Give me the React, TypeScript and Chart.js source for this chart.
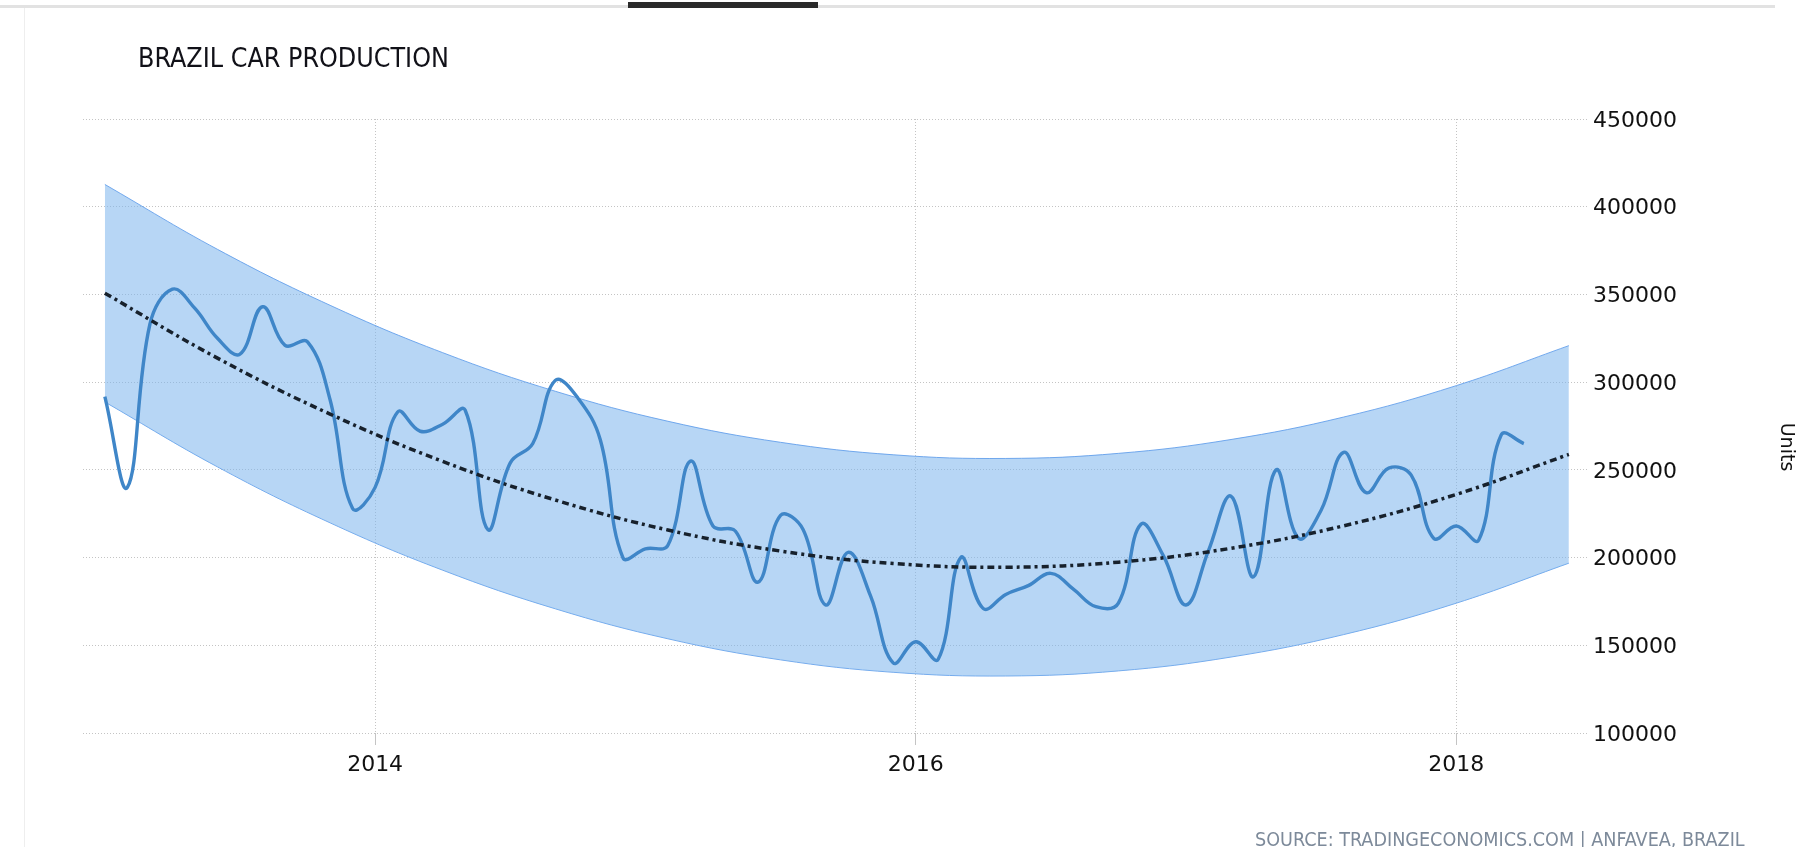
import React, { useEffect, useRef } from 'react';
import { Chart, registerables } from 'chart.js';

Chart.register(...registerables);

// ---- Text ----
const TITLE = 'BRAZIL CAR PRODUCTION';
const SOURCE = 'SOURCE: TRADINGECONOMICS.COM | ANFAVEA, BRAZIL';
const Y_TITLE = 'Units';

// ---- Monthly production, Jan 2013 (index 0) .. Apr 2018 (index 63) ----
const production = [
  291700, 240000, 333000, 353000, 342000, 325000, 316000, 343000, 321000, 323000,
  290000, 228000, 240000, 283000, 272000, 276000, 284000, 216000, 254000, 265000,
  301000, 291000, 267000, 200000, 205000, 207000, 255000, 218000, 215000, 186000,
  224000, 216000, 173000, 203000, 178000, 140000, 152000, 142000, 200000, 171000,
  179000, 184000, 191000, 182000, 172000, 174000, 219000, 201000, 173000, 204000,
  235000, 189000, 250000, 211000, 227000, 260000, 237000, 251000, 247000, 211000,
  218000, 210000, 270000, 265000,
];

// ---- Trend and band (month index -> value) ----
const bandMonths = [0, 5, 10, 15, 20, 25, 30, 35, 40, 45, 50, 55, 60, 65];
const trend = [350700, 313700, 281800, 254800, 232800, 215700, 203700, 196600, 194500, 197400, 205300, 218100, 236000, 258800];
const bandUpper = [412700, 375700, 343800, 316800, 294800, 277700, 265700, 258600, 256500, 259400, 267300, 280100, 298000, 320800];
const bandLower = [288700, 251700, 219800, 192800, 170800, 153700, 141700, 134600, 132500, 135400, 143300, 156100, 174000, 196800];

// ---- Axis ticks ----
const xTickValues = [12, 36, 60];
const xTickLabels = ['2014', '2016', '2018'];
const yMin = 100000;
const yMax = 450000;
const yStep = 50000;

const W = 1806;
const H = 847;

function fitText(ctx: CanvasRenderingContext2D, text: string, x: number, y: number, targetW: number, family: string, guess: number) {
  ctx.font = `${guess}px ${family}`;
  try { (ctx as any).fontStretch = 'condensed'; } catch (e) {}
  const w = ctx.measureText(text).width;
  const size = guess * targetW / w;
  ctx.font = `${size}px ${family}`;
  try { (ctx as any).fontStretch = 'condensed'; } catch (e) {}
  ctx.fillText(text, x, y);
}

export default function App() {
  const ref = useRef<HTMLCanvasElement>(null);

  useEffect(() => {
    const canvas = ref.current!;
    const textPlugin = {
      id: 'customTexts',
      afterDraw(chart: any) {
        const ctx: CanvasRenderingContext2D = chart.ctx;
        ctx.save();
        ctx.textAlign = 'left';
        ctx.textBaseline = 'alphabetic';
        ctx.fillStyle = '#111118';
        fitText(ctx, TITLE, 138, 66.5, 311, "'DejaVu Sans Condensed', 'DejaVu Sans'", 24);
        ctx.fillStyle = '#7d8a9a';
        fitText(ctx, SOURCE, 1255, 846, 490, "'DejaVu Sans Condensed', 'DejaVu Sans'", 18);
        ctx.restore();

        ctx.save();
        ctx.font = "19px 'DejaVu Sans'";
        ctx.fillStyle = '#111';
        ctx.textAlign = 'center';
        ctx.textBaseline = 'middle';
        ctx.translate(1786, 447);
        ctx.rotate(Math.PI / 2);
        ctx.fillText(Y_TITLE, 0, 0);
        ctx.restore();
      },
    };

    const chart = new Chart(canvas, {
      type: 'line',
      data: {
        datasets: [
          {
            label: 'upper',
            data: bandMonths.map((m, i) => ({ x: m, y: bandUpper[i] })),
            borderColor: 'rgba(100,160,235,0.9)',
            borderWidth: 1,
            backgroundColor: 'rgba(124,181,236,0.55)',
            fill: '+1',
            pointRadius: 0,
            tension: 0.4,
            order: 3,
          },
          {
            label: 'lower',
            data: bandMonths.map((m, i) => ({ x: m, y: bandLower[i] })),
            borderColor: 'rgba(100,160,235,0.9)',
            borderWidth: 1,
            fill: false,
            pointRadius: 0,
            tension: 0.4,
            order: 4,
          },
          {
            label: 'production',
            data: production.map((v, i) => ({ x: i, y: v })),
            borderColor: '#3f86c8',
            borderWidth: 3.4,
            fill: false,
            pointRadius: 0,
            tension: 0.4,
            order: 2,
          },
          {
            label: 'trend',
            data: bandMonths.map((m, i) => ({ x: m, y: trend[i] })),
            borderColor: '#17212c',
            borderWidth: 3.5,
            borderDash: [7, 4, 3, 4],
            fill: false,
            pointRadius: 0,
            tension: 0.4,
            order: 1,
          },
        ],
      },
      options: {
        responsive: false,
        animation: false,
        devicePixelRatio: 1,
        events: [],
        layout: { padding: { left: 83, top: 119, right: 0, bottom: 0 } },
        plugins: {
          legend: { display: false },
          tooltip: { enabled: false },
          title: { display: false },
        },
        scales: {
          x: {
            type: 'linear',
            min: -0.97,
            max: 65.85,
            afterBuildTicks: (axis: any) => {
              axis.ticks = xTickValues.map((v) => ({ value: v }));
            },
            afterFit: (s: any) => {
              s.height = H - 733;
            },
            grid: {
              color: '#c4c4c4',
              lineWidth: 1,
              drawTicks: true,
              tickLength: 12,
              tickColor: '#c4c4c4',
            },
            border: { display: false, dash: [1, 2] },
            ticks: {
              autoSkip: false,
              maxRotation: 0,
              padding: 7.5,
              color: '#111',
              font: { size: 22, family: "'DejaVu Sans'" },
              callback: (v: any) => {
                const i = xTickValues.indexOf(Number(v));
                return i >= 0 ? xTickLabels[i] : '';
              },
            },
          },
          y: {
            type: 'linear',
            position: 'right',
            min: yMin,
            max: yMax,
            afterFit: (s: any) => {
              s.width = W - 1588;
            },
            grid: { color: '#c4c4c4', lineWidth: 1, drawTicks: false },
            border: { display: false, dash: [1, 2] },
            ticks: {
              stepSize: yStep,
              padding: 5,
              labelOffset: 2,
              color: '#111',
              font: { size: 22, family: "'DejaVu Sans'" },
              callback: (v: any) => String(v),
            },
          },
        },
      },
      plugins: [textPlugin],
    } as any);

    return () => chart.destroy();
  }, []);

  return (
    <div style={{ position: 'fixed', left: 0, top: 0, width: W, height: H, background: '#fff', overflow: 'hidden' }}>
      <div style={{ position: 'absolute', left: 0, top: 5, width: 1775, height: 3, background: '#e2e2e2' }} />
      <div style={{ position: 'absolute', left: 628, top: 2, width: 190, height: 6, background: '#2a2a2a' }} />
      <div style={{ position: 'absolute', left: 24, top: 8, width: 1, height: H - 8, background: '#eeeeee' }} />
      <canvas ref={ref} width={W} height={H} style={{ position: 'absolute', left: 0, top: 0, width: W, height: H }} />
    </div>
  );
}
